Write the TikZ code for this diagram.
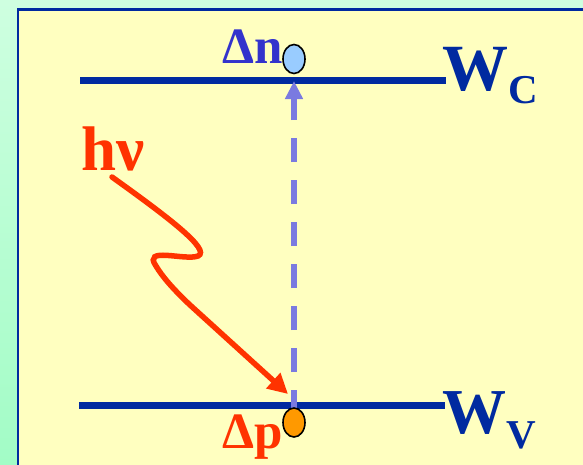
\documentclass[tikz,border=0pt]{standalone}
\usepackage{fontspec}
\setmainfont{Liberation Serif}
\usetikzlibrary{arrows.meta,shapes.geometric}
\definecolor{mintA}{RGB}{206,255,224}
\definecolor{mintB}{RGB}{162,252,198}
\definecolor{paper}{RGB}{255,255,192}
\definecolor{levelblue}{RGB}{0,42,160}
\definecolor{nblue}{RGB}{51,51,204}
\definecolor{redor}{RGB}{255,51,0}
\definecolor{dashblue}{RGB}{122,122,224}
\definecolor{holeor}{RGB}{255,153,0}
\definecolor{elecblue}{RGB}{153,204,255}
\tikzset{
  level/.style={draw=levelblue, line width=7pt},
  carrier/.style={draw=black, line width=1.6pt, ellipse, minimum width=22pt, minimum height=29pt, inner sep=0pt},
  txt/.style={inner sep=0pt, font=\bfseries},
}
\begin{document}
\begin{tikzpicture}[x=1pt,y=-1pt]
\useasboundingbox (0,0) rectangle (583,464);
\clip (0,0) rectangle (583,464);
\shade[top color=mintA, bottom color=mintB] (0,0) rectangle (583,464);
\filldraw[fill=paper, draw=levelblue, line width=2.6pt] (18,9.5) rectangle (600,480);
% energy levels
\coordinate (c1) at (80,80);
\coordinate (c2) at (446,80);
\coordinate (v1) at (79,405);
\coordinate (v2) at (445,405);
\draw[level] (c1) -- (c2);
\draw[level] (v1) -- (v2);
% dashed transition
\coordinate (ds) at (294,411);
\coordinate (de) at (294,81);
\draw[draw=dashblue, line width=6pt, dash pattern=on 24pt off 18pt, dash phase=3pt,
  -{Triangle[length=18pt,width=17pt]}] (ds) -- (de);
% carriers
\node[carrier, fill=elecblue] (en) at (294,59) {};
\node[carrier, fill=holeor] (hp) at (294,422.5) {};
% photon
\coordinate (ps) at (112,177);
\coordinate (pe) at (288,394);
\draw[draw=redor, line width=5.5pt, line cap=round, -{Triangle[length=20pt,width=20pt]}]
  (ps) .. controls (165,215) and (212,250) .. (198,256)
  .. controls (185,261) and (142,246) .. (156,266)
  .. controls (162,276) and (172,288) .. (190,305) -- (pe);
% labels
\node[txt, text=nblue, anchor=base east, font=\bfseries\fontsize{51}{51}\selectfont] (ln) at (283,63) {Δn};
\node[txt, text=redor, anchor=base east, font=\bfseries\fontsize{51}{51}\selectfont] (lp) at (283,448) {Δp};
\node[txt, text=redor, anchor=base west, font=\bfseries\fontsize{63}{63}\selectfont] (lh) at (81,170) {hν};
\node[txt, text=levelblue, anchor=base west, font=\bfseries\fontsize{66}{66}\selectfont] (lwc) at (442,90) {W\raisebox{-13pt}{\fontsize{41}{41}\selectfont C}};
\node[txt, text=levelblue, anchor=base west, font=\bfseries\fontsize{64}{64}\selectfont] (lwv) at (442,433) {W\raisebox{-15pt}{\fontsize{41}{41}\selectfont V}};
\end{tikzpicture}
\end{document}
